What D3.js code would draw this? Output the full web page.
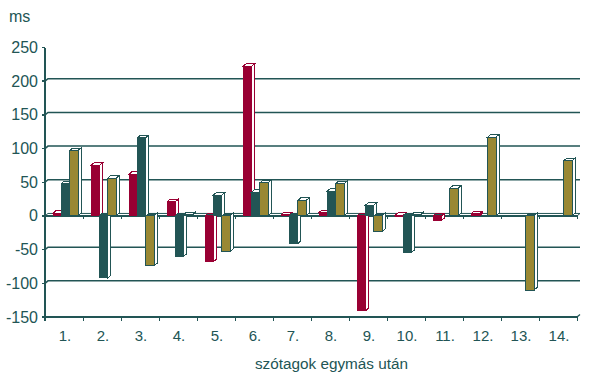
<!DOCTYPE html>
<html>
<head>
<meta charset="utf-8">
<script src="https://cdn.jsdelivr.net/npm/d3@7.9.0/dist/d3.min.js"></script>
<style>
  body { margin: 0; background: #fff; }
  text { font-family: Arial, "Liberation Sans", sans-serif; fill: #225555; }
  line, path, rect { shape-rendering: crispEdges; }
</style>
</head>
<body>
<svg id="chart" width="589" height="384"></svg>
<script>
// chart values
const categories = ['1.', '2.', '3.', '4.', '5.', '6.', '7.', '8.', '9.', '10.', '11.', '12.', '13.', '14.'];
const seriesNames = ['s1', 's2', 's3'];
const s1Values = [4, 75, 62, 21, -68, 222, 1.5, 5, -141, 1, -7, 3, 0, 0];
const s2Values = [48, -92, 116, -60, 31, 35, -41, 37, 16, -54, 0, 0, 0, 0];
const s3Values = [97, 56, -74, 2, -53, 49, 23, 48, -23, 2, 41, 117, -110, 82];
const yTicks = [250, 200, 150, 100, 50, 0, -50, -100, -150];
const gridValues = [200, 150, 100, 50, -50, -100];

const fills = ['#990033', '#225555', '#998833'];
const edges = ['#990033', '#225555', '#225555'];
const ink = '#225555';
const dx = 3, dy = 2.5;

const svg = d3.select('#chart');
svg.append('rect').attr('width', 589).attr('height', 384).attr('fill', '#fff');

let x = d3.scaleBand().domain(categories).range([45, 577]);
let xs = d3.scaleBand().domain(seriesNames).range([8, 33]);
let y = d3.scaleLinear().domain([-150, 250]).range([317, 47.5]);
const y0 = y(0);
const xEnd = x.range()[1];

// back wall grid lines
gridValues.forEach((v) => {
    let yy = y(v);
    svg.append('path')
        .attr('d', `M45,${yy} L${45 + dx},${yy - dy} L${xEnd + dx},${yy - dy}`)
        .attr('fill', 'none').attr('stroke', ink).attr('stroke-width', 1.5)
        .style('shape-rendering', 'auto');
});

// floor strip at zero
svg.append('path')
    .attr('d', `M45,${y0} L${45 + dx},${y0 - dy} L${xEnd + dx},${y0 - dy} L${xEnd},${y0} Z`)
    .attr('fill', '#fff').attr('stroke', ink).attr('stroke-width', 1)
    .style('shape-rendering', 'auto');

// zero line with small ticks at the category borders
svg.append('line').attr('x1', 45).attr('x2', xEnd).attr('y1', y0).attr('y2', y0)
    .attr('stroke', ink).attr('stroke-width', 1.5);
categories.forEach((c) => {
    svg.append('line').attr('x1', x(c)).attr('x2', x(c)).attr('y1', y0).attr('y2', y0 + 3)
        .attr('stroke', ink).attr('stroke-width', 1);
});
svg.append('line').attr('x1', xEnd).attr('x2', xEnd).attr('y1', y0).attr('y2', y0 + 3)
    .attr('stroke', ink).attr('stroke-width', 1);

// bars
const allValues = [s1Values, s2Values, s3Values];
const bars = [];
categories.forEach((c, i) => {
    seriesNames.forEach((s, j) => {
        bars.push({ c: c, s: s, j: j, v: allValues[j][i] });
    });
});

const w = xs.bandwidth();
bars.filter((d) => d.v !== 0).forEach((d) => {
    let bx = x(d.c) + xs(d.s);
    let top = Math.min(y(d.v), y0);
    let bottom = Math.max(y(d.v), y0);
    let g = svg.append('g');
    // right side face
    g.append('path')
        .attr('d', `M${bx + w},${bottom} L${bx + w + dx},${bottom - dy} L${bx + w + dx},${top - dy} L${bx + w},${top} Z`)
        .attr('fill', '#fff').attr('stroke', edges[d.j]).attr('stroke-width', 1);
    // top face
    g.append('path')
        .attr('d', `M${bx},${top} L${bx + dx},${top - dy} L${bx + w + dx},${top - dy} L${bx + w},${top} Z`)
        .attr('fill', d.v < 0 ? ink : '#fff').attr('stroke', edges[d.j]).attr('stroke-width', 1);
    // front
    g.append('rect')
        .attr('x', bx).attr('y', top).attr('width', w).attr('height', Math.max(bottom - top, 1))
        .attr('fill', fills[d.j]).attr('stroke', edges[d.j]).attr('stroke-width', 1);
});

// y axis
const yb = y(-150);
svg.append('line').attr('x1', 45).attr('x2', 45).attr('y1', y(250)).attr('y2', yb + 4)
    .attr('stroke', ink).attr('stroke-width', 1.5);
yTicks.forEach((v) => {
    svg.append('line').attr('x1', 42).attr('x2', 45).attr('y1', y(v)).attr('y2', y(v))
        .attr('stroke', ink).attr('stroke-width', 1.5);
    svg.append('text').attr('x', 38).attr('y', y(v) + 5.5)
        .attr('text-anchor', 'end').attr('font-size', 16).text(v < 0 ? '-' + Math.abs(v) : v);
});

// bottom axis
svg.append('line').attr('x1', 45).attr('x2', xEnd).attr('y1', yb).attr('y2', yb)
    .attr('stroke', ink).attr('stroke-width', 1.5);
svg.append('line').attr('x1', xEnd).attr('x2', xEnd + dx).attr('y1', yb).attr('y2', yb - dy)
    .attr('stroke', ink).attr('stroke-width', 1.2).style('shape-rendering', 'auto');
categories.forEach((c) => {
    svg.append('line').attr('x1', x(c)).attr('x2', x(c)).attr('y1', yb).attr('y2', yb + 4)
        .attr('stroke', ink).attr('stroke-width', 1);
    svg.append('text').attr('x', x(c) + x.bandwidth() / 2 + 1).attr('y', 341)
        .attr('text-anchor', 'middle').attr('font-size', 15).text(c);
});
svg.append('line').attr('x1', xEnd).attr('x2', xEnd).attr('y1', yb).attr('y2', yb + 4)
    .attr('stroke', ink).attr('stroke-width', 1);

// titles
svg.append('text').attr('x', 9).attr('y', 22).attr('font-size', 16).text('ms');
svg.append('text').attr('x', 331.5).attr('y', 368.5).attr('text-anchor', 'middle')
    .attr('font-size', 15.3).text('szótagok egymás után');
</script>
</body>
</html>
